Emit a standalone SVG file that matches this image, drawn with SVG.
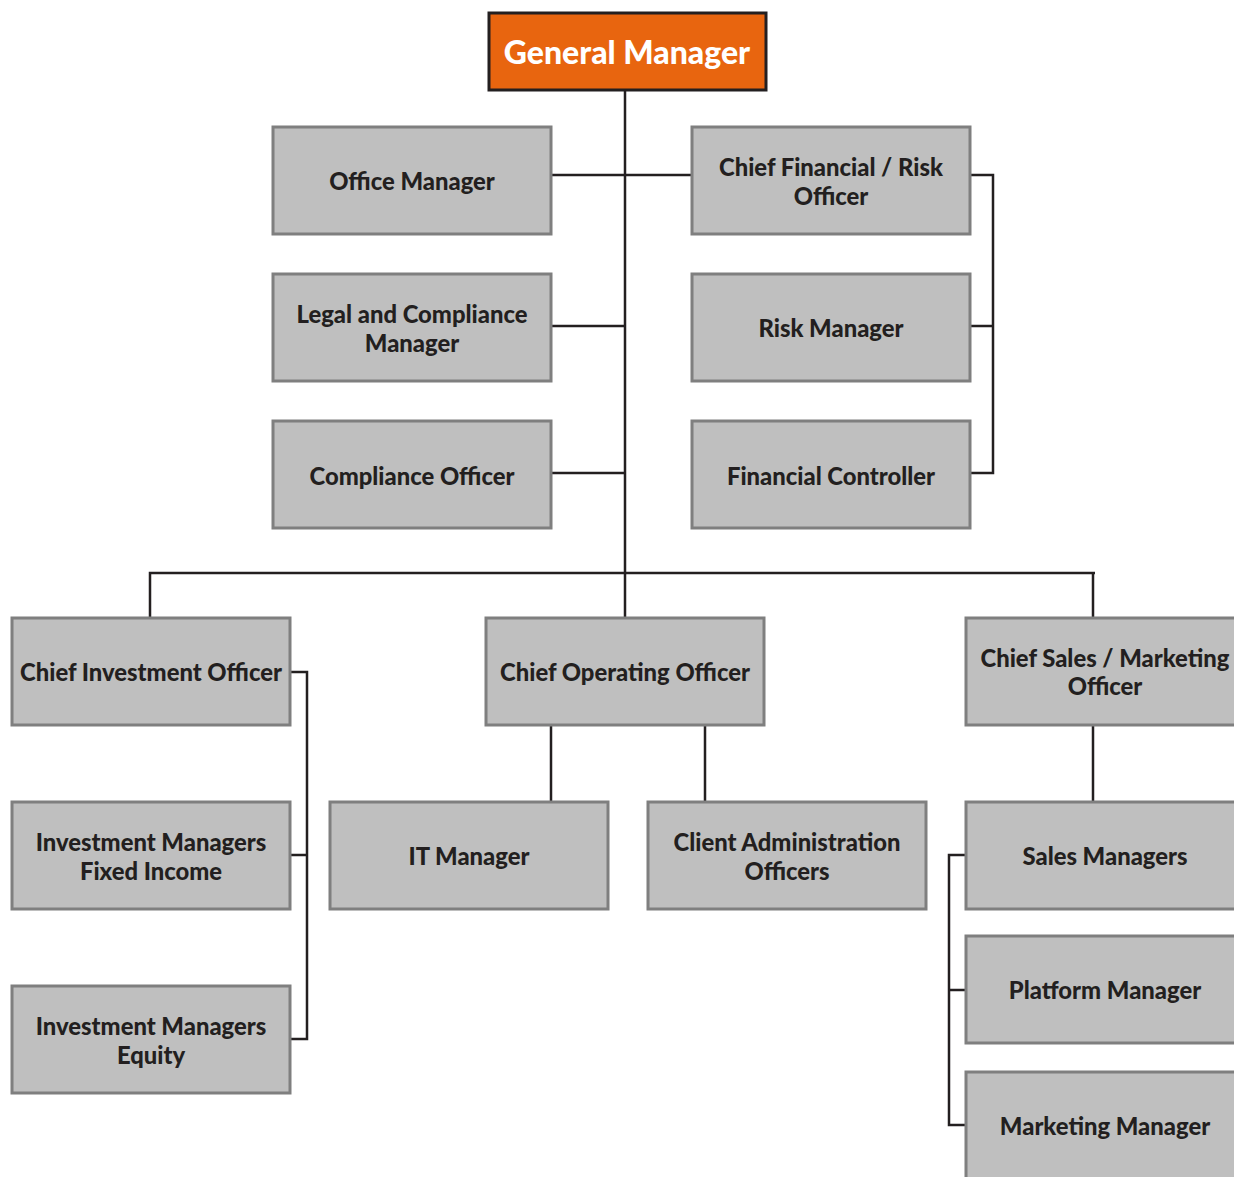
<svg xmlns="http://www.w3.org/2000/svg" width="1234" height="1177" viewBox="0 0 1234 1177">
<style>
.box{fill:#bfbfbf;stroke:#7f7f7f;stroke-width:3}
.gm{fill:#e8650f;stroke:#231f20;stroke-width:3}
.lbl{font-family:Lato,"Liberation Sans",sans-serif;font-weight:900;font-size:23.8px;fill:#231f20;text-anchor:middle}
.gmt{font-family:Lato,"Liberation Sans",sans-serif;font-weight:900;font-size:32px;fill:#ffffff;text-anchor:middle}
.ln{fill:none;stroke:#231f20;stroke-width:2.5}
</style>
<rect width="1234" height="1177" fill="#ffffff"/>
<g id="connectors">
<path class="ln" d="M625 91V617"/>
<path class="ln" d="M551 175H692"/>
<path class="ln" d="M551 326H625"/>
<path class="ln" d="M551 473H625"/>
<path class="ln" d="M970 175H993V473H970M970 326H993"/>
<path class="ln" d="M150 617V573H1095M1093 573V617"/>
<path class="ln" d="M290 672H307V1039H290M290 855H307"/>
<path class="ln" d="M551 725V801M705 725V801"/>
<path class="ln" d="M1093 725V801"/>
<path class="ln" d="M966 855H949V1125H966M949 990H966"/>
</g>
<g id="general-manager"><rect class="gm" x="489" y="13" width="277" height="77"/><text class="gmt" x="627" y="64">General Manager</text></g>
<g id="office-manager"><rect class="box" x="273" y="127" width="278" height="107"/><text class="lbl" x="412" y="190">Office Manager</text></g>
<g id="cfo"><rect class="box" x="692" y="127" width="278" height="107"/><text class="lbl" x="831" y="176">Chief Financial / Risk</text><text class="lbl" x="831" y="205">Officer</text></g>
<g id="legal"><rect class="box" x="273" y="274" width="278" height="107"/><text class="lbl" x="412" y="323">Legal and Compliance</text><text class="lbl" x="412" y="352">Manager</text></g>
<g id="risk-manager"><rect class="box" x="692" y="274" width="278" height="107"/><text class="lbl" x="831" y="337">Risk Manager</text></g>
<g id="compliance-officer"><rect class="box" x="273" y="421" width="278" height="107"/><text class="lbl" x="412" y="485">Compliance Officer</text></g>
<g id="financial-controller"><rect class="box" x="692" y="421" width="278" height="107"/><text class="lbl" x="831" y="485">Financial Controller</text></g>
<g id="cio"><rect class="box" x="12" y="618" width="278" height="107"/><text class="lbl" x="151" y="681">Chief Investment Officer</text></g>
<g id="coo"><rect class="box" x="486" y="618" width="278" height="107"/><text class="lbl" x="625" y="681">Chief Operating Officer</text></g>
<g id="cso"><rect class="box" x="966" y="618" width="278" height="107"/><text class="lbl" x="1105" y="667">Chief Sales / Marketing</text><text class="lbl" x="1105" y="695">Officer</text></g>
<g id="im-fixed-income"><rect class="box" x="12" y="802" width="278" height="107"/><text class="lbl" x="151" y="851">Investment Managers</text><text class="lbl" x="151" y="880">Fixed Income</text></g>
<g id="it-manager"><rect class="box" x="330" y="802" width="278" height="107"/><text class="lbl" x="469" y="865">IT Manager</text></g>
<g id="client-admin"><rect class="box" x="648" y="802" width="278" height="107"/><text class="lbl" x="787" y="851">Client Administration</text><text class="lbl" x="787" y="880">Officers</text></g>
<g id="sales-managers"><rect class="box" x="966" y="802" width="278" height="107"/><text class="lbl" x="1105" y="865">Sales Managers</text></g>
<g id="im-equity"><rect class="box" x="12" y="986" width="278" height="107"/><text class="lbl" x="151" y="1035">Investment Managers</text><text class="lbl" x="151" y="1064">Equity</text></g>
<g id="platform-manager"><rect class="box" x="966" y="936" width="278" height="107"/><text class="lbl" x="1105" y="999">Platform Manager</text></g>
<g id="marketing-manager"><rect class="box" x="966" y="1072" width="278" height="120"/><text class="lbl" x="1105" y="1135">Marketing Manager</text></g>
</svg>
